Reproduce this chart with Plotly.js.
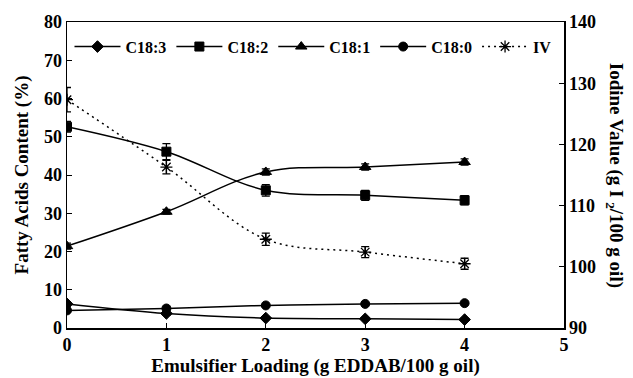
<!DOCTYPE html>
<html><head><meta charset="utf-8">
<script src="https://cdn.plot.ly/plotly-3.0.1.min.js"></script>
<style>html,body{margin:0;padding:0;background:#fff}#chart{width:633px;height:378px}</style>
</head><body><div id="chart"></div>
<script>
var loading = [0, 1, 2, 3, 4];
var c183 = [6.3, 3.8, 2.6, 2.4, 2.2];
var c183Err = [0.6, 0.4, 0.3, 0.3, 0.3];
var c182 = [52.6, 46.1, 36.0, 34.7, 33.4];
var c182Err = [1.4, 2.1, 1.5, 1.3, 1.2];
var c181 = [21.4, 30.4, 40.8, 42.1, 43.4];
var c181Err = [0.8, 0.6, 0.8, 0.8, 0.8];
var c180 = [4.6, 5.1, 5.9, 6.3, 6.5];
var c180Err = [0.4, 0.4, 0.3, 0.3, 0.3];
var iv = [127.3, 116.3, 104.5, 102.4, 100.5];
var ivErr = [2.0, 1.1, 1.0, 0.9, 0.9];

function fnt(sz){ return {family: 'Liberation Serif', size: sz, color: '#000', weight: 700}; }
function err(a){ return {type:'data', array:a, visible:true, color:'#000', thickness:1.3, width:4}; }
function tr(name, y, e, sym, opts){
  return Object.assign({
    x: loading, y: y, name: name, type: 'scatter', mode: 'lines+markers',
    line: {color:'#000', width:1.5, shape:'spline', smoothing:1},
    marker: {symbol: sym, size: 9, color:'#000', line:{color:'#000', width:1}},
    error_y: err(e)
  }, opts || {});
}
var data = [
  tr('C18:3', c183, c183Err, 'diamond'),
  tr('C18:2', c182, c182Err, 'square'),
  tr('C18:1', c181, c181Err, 'triangle-up', {marker:{symbol:'triangle-up', size:10, color:'#000', line:{color:'#000', width:1}}}),
  tr('C18:0', c180, c180Err, 'circle'),
  tr('IV', iv, ivErr, 'asterisk-open', {
    yaxis: 'y2',
    line: {color:'#000', width:1.5, shape:'spline', smoothing:1, dash:'2px,4px'},
    marker: {symbol:'asterisk-open', size: 10, color:'#000', line:{color:'#000', width:1.3}}
  })
];
var layout = {
  width: 633, height: 378,
  margin: {l: 67, r: 69, t: 22, b: 50},
  paper_bgcolor: '#fff', plot_bgcolor: '#fff',
  font: fnt(18),
  showlegend: true,
  legend: {orientation: 'h', x: 0.005, y: 0.975, xanchor: 'left', yanchor: 'top',
           font: fnt(16), itemwidth: 46, tracegroupgap: 0, bgcolor: 'rgba(0,0,0,0)'},
  xaxis: {range: [0, 5], dtick: 1, tick0: 0, showgrid: false, zeroline: false,
          showline: true, linecolor: '#000', linewidth: 1.5, mirror: true,
          ticks: 'inside', ticklen: 5, tickcolor: '#000', tickfont: fnt(18),
          title: {text: 'Emulsifier Loading (g EDDAB/100 g oil)', font: fnt(19), standoff: 2}},
  yaxis: {range: [0, 80], dtick: 10, showgrid: false, zeroline: false,
          showline: true, linecolor: '#000', linewidth: 1.5,
          ticks: 'inside', ticklen: 5, tickcolor: '#000', tickfont: fnt(18),
          title: {text: 'Fatty Acids Content (%)', font: fnt(19), standoff: 10}},
  yaxis2: {range: [90, 140], dtick: 10, overlaying: 'y', side: 'right', showgrid: false, zeroline: false,
          showline: true, linecolor: '#000', linewidth: 1.5,
          ticks: 'inside', ticklen: 5, tickcolor: '#000', tickfont: fnt(18)},
  annotations: [{
    text: 'Iodine Value (g I <sub>2</sub>/100 g oil)', textangle: 90,
    xref: 'paper', yref: 'paper', x: 1.103, y: 0.5, xanchor: 'center', yanchor: 'middle',
    showarrow: false, font: fnt(19)
  }]
};
Plotly.newPlot('chart', data, layout, {displayModeBar: false, staticPlot: true});
</script></body></html>
